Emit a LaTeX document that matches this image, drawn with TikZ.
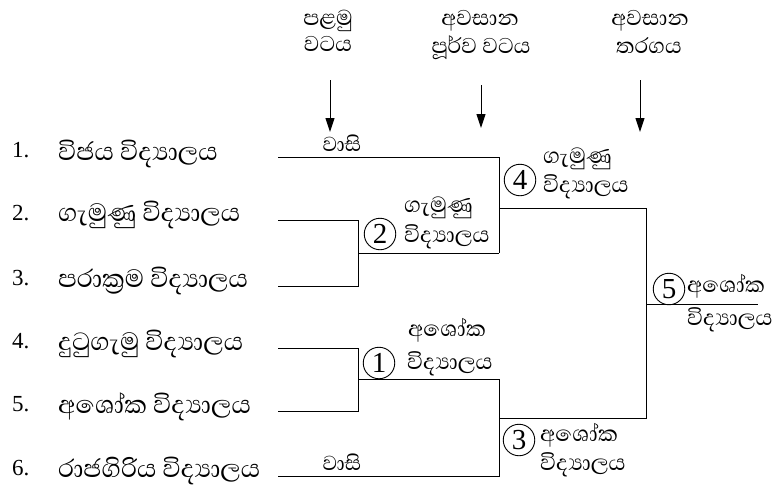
\documentclass[tikz,border=0pt]{standalone}
\usepackage{fontspec}
\setmainfont{Liberation Serif}
\newfontfamily\sinhalafont[Script=Sinhala]{Abhaya Libre}
\usetikzlibrary{arrows.meta}
\begin{document}
\begin{tikzpicture}[x=1pt,y=-1pt,
  school/.style={anchor=mid west, inner sep=0pt, yshift=-3pt, font=\sinhalafont\fontsize{32}{36}\selectfont},
  num/.style={anchor=mid west, inner sep=0pt, font=\fontsize{23}{26}\selectfont},
  lbl/.style={anchor=mid west, inner sep=0pt, yshift=-3pt, font=\sinhalafont\fontsize{28}{32}\selectfont},
  hdr/.style={anchor=mid, inner sep=0pt, yshift=-1pt, font=\sinhalafont\fontsize{27.5}{32}\selectfont},
  wasi/.style={anchor=mid, inner sep=0pt, yshift=-3pt, font=\sinhalafont\fontsize{26}{30}\selectfont},
  rnd/.style={circle, draw, line width=0.9pt, minimum size=31.5pt, inner sep=0pt, font=\fontsize{29}{30}\selectfont},
  br/.style={line width=1pt},
  arr/.style={line width=1pt, -{Triangle[length=14pt,width=9pt]}}
]
\useasboundingbox (0,0) rectangle (778,490);

% headers
\node[hdr] (h1a) at (328,22) {පළමු};
\node[hdr] (h1b) at (328,48) {වටය};
\node[hdr] (h2a) at (480,22) {අවසාන};
\node[hdr] (h2b) at (481,50) {පූර්ව වටය};
\node[hdr] (h3a) at (650,22) {අවසාන};
\node[hdr] (h3b) at (649,50) {තරගය};
\coordinate (a1s) at (330,80);  \coordinate (a1e) at (330,132);
\coordinate (a2s) at (481,85);  \coordinate (a2e) at (481,128);
\coordinate (a3s) at (640,80);  \coordinate (a3e) at (640,132);
\draw[arr] (a1s) -- (a1e);
\draw[arr] (a2s) -- (a2e);
\draw[arr] (a3s) -- (a3e);

% numbers and schools
\node[num] (n1) at (12,155) {1.};
\node[num] (n2) at (12,218) {2.};
\node[num] (n3) at (12,283) {3.};
\node[num] (n4) at (12,346) {4.};
\node[num] (n5) at (12,409) {5.};
\node[num] (n6) at (12,473) {6.};
\node[school] (s1) at (58,155) {විජය විද්^^^^200dයාලය};
\node[school] (s2) at (58,216) {ගැමුණු විද්^^^^200dයාලය};
\node[school] (s3) at (58,282) {පරාක්^^^^200dරම විද්^^^^200dයාලය};
\node[school] (s4) at (58,345) {දුටුගැමු විද්^^^^200dයාලය};
\node[school] (s5) at (58,408) {අශෝක විද්^^^^200dයාලය};
\node[school] (s6) at (58,472) {රාජගිරිය විද්^^^^200dයාලය};

% bracket points
\coordinate (r1a) at (278,157); \coordinate (r1b) at (499,157);
\coordinate (r2a) at (278,220); \coordinate (r2b) at (358,220);
\coordinate (r3a) at (278,286); \coordinate (r3b) at (358,286);
\coordinate (r4a) at (278,348); \coordinate (r4b) at (358,348);
\coordinate (r5a) at (278,411); \coordinate (r5b) at (358,411);
\coordinate (r6a) at (278,476); \coordinate (r6b) at (499,476);
\coordinate (m2a) at (358,253); \coordinate (m2b) at (499,253);
\coordinate (m1a) at (358,379); \coordinate (m1b) at (499,379);
\coordinate (m4a) at (499,208); \coordinate (m4b) at (646,208);
\coordinate (m3a) at (499,418); \coordinate (m3b) at (646,418);
\coordinate (m5a) at (646,304); \coordinate (m5b) at (758,304);

\draw[br] (r1a) -- (r1b) -- (m2b);
\draw[br] (r2a) -- (r2b) -- (r3b) -- (r3a);
\draw[br] (m2a) -- (m2b);
\draw[br] (r4a) -- (r4b) -- (r5b) -- (r5a);
\draw[br] (m1a) -- (m1b) -- (r6b) -- (r6a);
\draw[br] (m4a) -- (m4b) -- (m3b) -- (m3a);
\draw[br] (m5a) -- (m5b);

\node[wasi] (w1) at (342,146) {වාසි};
\node[wasi] (w6) at (342,465) {වාසි};

% rounds
\node[rnd] (c2) at (380,234) {2};
\node[rnd] (c1) at (379,363) {1};
\node[rnd] (c4) at (520,180) {4};
\node[rnd] (c3) at (519,440) {3};
\node[rnd] (c5) at (669,289) {5};

\node[lbl] (l2a) at (404,207) {ගැමුණු};
\node[lbl] (l2b) at (404,237) {විද්^^^^200dයාලය};
\node[lbl] (l4a) at (543,158) {ගැමුණු};
\node[lbl] (l4b) at (543,187) {විද්^^^^200dයාලය};
\node[lbl] (l1a) at (408,331) {අශෝක};
\node[lbl] (l1b) at (407,364) {විද්^^^^200dයාලය};
\node[lbl] (l3a) at (540,436) {අශෝක};
\node[lbl] (l3b) at (540,465) {විද්^^^^200dයාලය};
\node[lbl] (l5a) at (687,287) {අශෝක};
\node[lbl] (l5b) at (687,320) {විද්^^^^200dයාලය};
\end{tikzpicture}
\end{document}
